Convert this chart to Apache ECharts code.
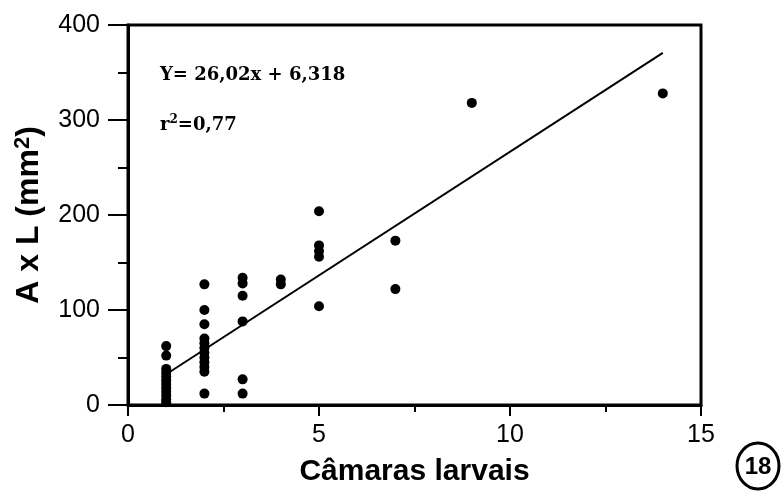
<!DOCTYPE html>
<html>
<head>
<meta charset="utf-8">
<script src="https://cdn.jsdelivr.net/npm/echarts@6/dist/echarts.min.js"></script>
<style>
  html, body { margin: 0; padding: 0; background: #fff; }
  #chart { width: 783px; height: 492px; }
</style>
</head>
<body>
<div id="chart"></div>
<script>
// câmaras larvais (x) vs área A x L (y)
var chambers = [1, 1, 1, 1, 1, 1, 1, 1, 1, 1, 1, 1,
                2, 2, 2, 2, 2, 2, 2, 2, 2, 2, 2, 2,
                3, 3, 3, 3, 3, 3,
                4, 4,
                5, 5, 5, 5, 5,
                7, 7,
                9,
                14];
var area = [62, 52, 38, 34, 30, 26, 22, 18, 14, 10, 6, 3,
            127, 100, 85, 70, 65, 60, 55, 50, 45, 40, 35, 12,
            134, 128, 115, 88, 27, 12,
            132, 127,
            204, 168, 162, 156, 104,
            173, 122,
            318,
            328];
// regression from the figure: Y = 26,02x + 6,318
var slope = 26.02;
var intercept = 6.318;
var fitX = [1, 14];
var xTicks = [0, 5, 10, 15];
var yTicks = [0, 100, 200, 300, 400];

var points = chambers.map(function (x, i) { return [x, area[i]]; });
var fitLine = fitX.map(function (x) { return [x, slope * x + intercept]; });

var myChart = echarts.init(document.getElementById("chart"));
var option = {
  animation: false,
  grid: {
    left: 128,
    right: 82,
    top: 25,
    bottom: 85,
    show: true,
    borderColor: "#000",
    borderWidth: 3,
  },
  xAxis: {
    type: "value",
    min: xTicks[0],
    max: xTicks[xTicks.length - 1],
    interval: 5,
    name: "Câmaras larvais",
    nameLocation: "middle",
    nameGap: 52,
    nameTextStyle: { fontFamily: "Liberation Sans", fontWeight: "bold", fontSize: 30, color: "#000" },
    axisLine: { lineStyle: { color: "#000", width: 3 } },
    axisTick: { length: 11, lineStyle: { color: "#000", width: 2 } },
    minorTick: { show: true, splitNumber: 2, length: 7, lineStyle: { color: "#000", width: 2 } },
    splitLine: { show: false },
    axisLabel: { margin: 18, fontFamily: "Liberation Sans", fontSize: 25, color: "#000" },
  },
  yAxis: {
    type: "value",
    min: yTicks[0],
    max: yTicks[yTicks.length - 1],
    interval: 100,
    name: "{a|A x L (mm}{s|2}{a|)}",
    nameLocation: "middle",
    nameRotate: 90,
    nameGap: 82,
    nameTextStyle: {
      rich: {
        a: { fontFamily: "Liberation Sans", fontWeight: "bold", fontSize: 32, color: "#000", lineHeight: 34 },
        s: { fontFamily: "Liberation Sans", fontWeight: "bold", fontSize: 22, color: "#000", verticalAlign: "top", lineHeight: 34 },
      },
    },
    axisLine: { lineStyle: { color: "#000", width: 3 } },
    axisTick: { length: 20, lineStyle: { color: "#000", width: 2 } },
    minorTick: { show: true, splitNumber: 2, length: 10, lineStyle: { color: "#000", width: 2 } },
    splitLine: { show: false },
    axisLabel: { margin: 28, fontFamily: "Liberation Sans", fontSize: 25, color: "#000" },
  },
  series: [
    {
      name: "pontos",
      type: "scatter",
      symbol: "circle",
      symbolSize: 10,
      itemStyle: { color: "#000", opacity: 1 },
      data: points,
      z: 3,
    },
    {
      name: "regressão",
      type: "line",
      showSymbol: false,
      symbol: "none",
      lineStyle: { color: "#000", width: 2 },
      data: fitLine,
      z: 2,
    },
  ],
  graphic: [
    {
      type: "text",
      left: 160,
      top: 66,
      style: { text: "Y= 26,02x + 6,318", font: "bold 18px 'DejaVu Serif'", fill: "#000" },
    },
    {
      type: "text",
      left: 160,
      top: 114,
      style: {
        text: "{r|r}{s|2}{r|=0,77}",
        rich: {
          r: { font: "bold 18px 'DejaVu Serif'", fill: "#000", lineHeight: 22 },
          s: { font: "bold 12px 'DejaVu Serif'", fill: "#000", verticalAlign: "top", lineHeight: 22 },
        },
      },
    },
    {
      type: "ellipse",
      shape: { cx: 758, cy: 466, rx: 21, ry: 23 },
      style: { fill: "#fff", stroke: "#000", lineWidth: 3 },
    },
    {
      type: "text",
      x: 758,
      y: 467,
      style: { text: "18", font: "bold 24px 'Liberation Sans Narrow', 'Liberation Sans'", fill: "#000", align: "center", verticalAlign: "middle" },
    },
  ],
};
myChart.setOption(option);
</script>
</body>
</html>
